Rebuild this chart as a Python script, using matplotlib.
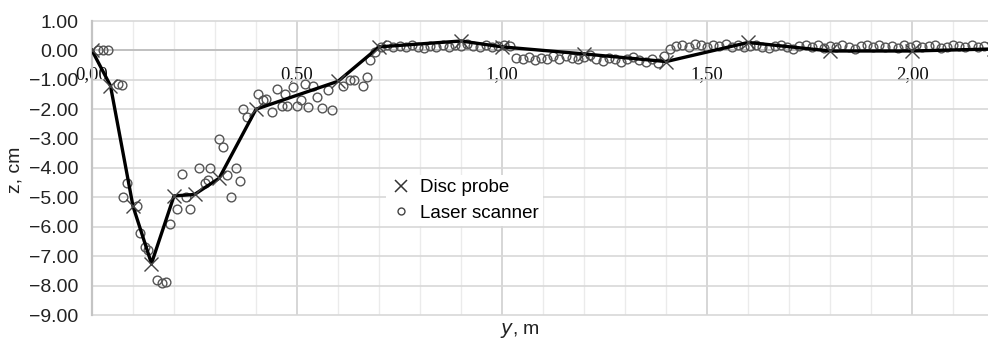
import numpy as np
import matplotlib
matplotlib.use("Agg")
import matplotlib.pyplot as plt
from matplotlib.lines import Line2D
from matplotlib.ticker import MultipleLocator, FuncFormatter

# Disc probe readings (y in m, z in cm)
probe_y = [0.00, 0.045, 0.10, 0.145, 0.20, 0.25, 0.31, 0.40, 0.60, 0.70, 0.90, 1.00,
           1.20, 1.40, 1.60, 1.80, 2.00, 2.20]
probe_z = [0.00, -1.20, -5.30, -7.25, -4.95, -4.90, -4.35, -2.00, -1.05, 0.12, 0.32, 0.12,
           -0.12, -0.38, 0.27, -0.02, -0.02, 0.05]

# Laser scanner readings, coarse part of the profile
laser_y1 = [0.015, 0.027, 0.039, 0.063, 0.073, 0.076, 0.085, 0.110, 0.117, 0.129, 0.137,
            0.158, 0.170, 0.180, 0.189, 0.207, 0.220, 0.230, 0.240, 0.260, 0.275, 0.283,
            0.288, 0.310, 0.320, 0.330, 0.340, 0.350, 0.360, 0.368, 0.378, 0.405, 0.417,
            0.425, 0.439, 0.450, 0.463, 0.470, 0.476, 0.490, 0.500, 0.510, 0.520, 0.527,
            0.540, 0.548, 0.561, 0.576, 0.585, 0.612, 0.630, 0.640, 0.660, 0.670, 0.678]
laser_z1 = [0.00, 0.00, 0.00, -1.15, -1.18, -5.00, -4.50, -5.30, -6.20, -6.70, -6.80,
            -7.80, -7.90, -7.88, -5.90, -5.40, -4.20, -5.00, -5.40, -4.00, -4.50, -4.40,
            -4.00, -3.00, -3.30, -4.25, -5.00, -4.00, -4.45, -2.00, -2.25, -1.50, -1.70,
            -1.65, -2.10, -1.30, -1.90, -1.50, -1.90, -1.25, -1.90, -1.70, -1.13, -1.93,
            -1.20, -1.60, -1.97, -1.35, -2.03, -1.20, -1.00, -1.00, -1.20, -0.90, -0.34]

# Laser scanner readings, dense flat part
laser_y2 = [0.690, 0.705, 0.720, 0.735, 0.750, 0.765, 0.780, 0.795, 0.810, 0.825, 0.840,
            0.855, 0.870, 0.885, 0.900, 0.915, 0.930, 0.945, 0.960, 0.975, 0.990, 1.005,
            1.020, 1.035, 1.050, 1.065, 1.080, 1.095, 1.110, 1.125, 1.140, 1.155, 1.170,
            1.185, 1.200, 1.215, 1.230, 1.245, 1.260, 1.275, 1.290, 1.305, 1.320, 1.335,
            1.350, 1.365, 1.380, 1.395, 1.410, 1.425, 1.440, 1.455, 1.470, 1.485, 1.500,
            1.515, 1.530, 1.545, 1.560, 1.575, 1.590, 1.605, 1.620, 1.635, 1.650, 1.665,
            1.680, 1.695, 1.710, 1.725, 1.740, 1.755, 1.770, 1.785, 1.800, 1.815, 1.830,
            1.845, 1.860, 1.875, 1.890, 1.905, 1.920, 1.935, 1.950, 1.965, 1.980, 1.995,
            2.010, 2.025, 2.040, 2.055, 2.070, 2.085, 2.100, 2.115, 2.130, 2.145, 2.160,
            2.175]
laser_z2 = [-0.05, 0.10, 0.18, 0.12, 0.15, 0.10, 0.17, 0.13, 0.08, 0.16, 0.12,
            0.18, 0.10, 0.20, 0.14, 0.22, 0.16, 0.12, 0.18, 0.10, 0.15, 0.20,
            0.15, -0.25, -0.30, -0.22, -0.32, -0.25, -0.30, -0.20, -0.28, -0.18, -0.25,
            -0.30, -0.22, -0.15, -0.28, -0.35, -0.25, -0.30, -0.38, -0.28, -0.22, -0.32,
            -0.40, -0.30, -0.42, -0.20, 0.05, 0.15, 0.20, 0.12, 0.22, 0.18, 0.10,
            0.20, 0.15, 0.22, 0.12, 0.18, 0.10, 0.15, 0.20, 0.12, 0.08, 0.15,
            0.18, 0.10, 0.05, 0.15, 0.20, 0.12, 0.18, 0.08, 0.15, 0.10, 0.20,
            0.12, 0.05, 0.15, 0.18, 0.10, 0.20, 0.12, 0.15, 0.08, 0.18, 0.12,
            0.20, 0.10, 0.15, 0.18, 0.08, 0.12, 0.20, 0.15, 0.10, 0.18, 0.12,
            0.15]

laser_y = laser_y1 + laser_y2
laser_z = laser_z1 + laser_z2

plt.rcParams['font.family'] = ['Liberation Sans', 'DejaVu Sans']

fig = plt.figure(figsize=(9.88, 3.39), dpi=100)
ax = fig.add_axes([92 / 988, 1 - 315 / 339, 1 - 92 / 988, (315 - 21) / 339])

ax.plot(laser_y, laser_z, linestyle='none', marker='o', markersize=6.3,
        markerfacecolor='none', markeredgecolor='#555555', markeredgewidth=1.0, zorder=3)
ax.plot(probe_y, probe_z, color='black', linewidth=2.4, zorder=4)
ax.plot(probe_y, probe_z, linestyle='none', marker='x', markersize=9.5,
        markeredgecolor='#444444', markeredgewidth=1.0, zorder=5)

ax.set_xlim(0, 2.185)
ax.set_ylim(-9, 1)

# grid
ax.xaxis.set_major_locator(MultipleLocator(0.5))
ax.xaxis.set_minor_locator(MultipleLocator(0.1))
ax.yaxis.set_major_locator(MultipleLocator(1.0))
ax.grid(which='minor', axis='x', color='#ebebeb', linewidth=1.0)
ax.grid(which='major', axis='x', color='#d0d0d0', linewidth=1.2)
ax.grid(which='major', axis='y', color='#d8d8d8', linewidth=1.2)
for gl in ax.get_ygridlines():
    gl.set_clip_on(False)
ax.set_axisbelow(True)

# axes lines
for side in ['top', 'right']:
    ax.spines[side].set_visible(False)
ax.spines['left'].set_color('#c4c4c4')
ax.spines['left'].set_linewidth(1.6)
ax.spines['bottom'].set_position(('data', 0))
ax.spines['bottom'].set_color('#bcbcbc')
ax.spines['bottom'].set_linewidth(1.2)

ax.tick_params(axis='both', which='both', length=0)
ax.tick_params(axis='x', pad=11, labelsize=13.5, labelcolor='#111111')
ax.tick_params(axis='y', pad=10, labelsize=14, labelcolor='#222222')
for lbl in ax.get_xticklabels():
    lbl.set_family('Liberation Serif')
ax.xaxis.set_major_formatter(FuncFormatter(lambda v, p: f"{v:.2f}".replace('.', ',')))
ax.yaxis.set_major_formatter(FuncFormatter(lambda v, p: f"{v:.2f}".replace('-', '\u2212')))

fig.text(15 / 988, 1 - 170 / 339, 'z, cm', rotation=90, ha='center', va='center',
         fontsize=14, color='#222222')
fig.text(520 / 988, 1 - 330 / 339, r'$\it{y}$, m', ha='center', va='center',
         fontsize=14, color='#222222')

handles = [
    Line2D([], [], linestyle='none', marker='x', markersize=9,
           markeredgecolor='#333333', markeredgewidth=1.1),
    Line2D([], [], linestyle='none', marker='o', markersize=5,
           markerfacecolor='none', markeredgecolor='#444444', markeredgewidth=1.0),
]
ax.legend(handles, ['Disc probe', 'Laser scanner'], loc='upper left',
          bbox_to_anchor=(377 / 988, 1 - 166 / 339), bbox_transform=fig.transFigure,
          frameon=True, facecolor='white', edgecolor='none', framealpha=1,
          fontsize=13.5, handletextpad=0.4, labelspacing=0.45, borderpad=0.2,
          handlelength=1.2)

fig.savefig('out.png', dpi=100)
